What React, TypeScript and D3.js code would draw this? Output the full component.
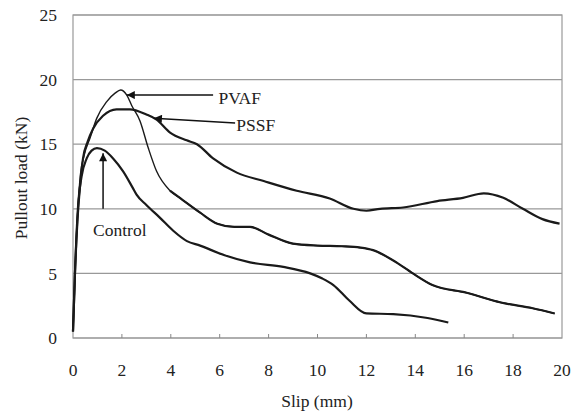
import React from "react";
import * as d3 from "d3";

// slip (mm), load (kN)
const pvaf: [number, number][] = [
  [0, 0.5], [0.05, 3], [0.12, 7], [0.2, 10], [0.3, 12.6], [0.45, 14.1], [0.7, 15.5],
  [0.97, 17.0], [1.38, 18.3], [1.72, 18.95], [1.95, 19.2], [2.2, 18.8], [2.4, 18.0],
  [2.74, 16.8], [3.08, 14.7], [3.42, 12.9], [3.97, 11.4], [4.4, 10.8], [5.2, 9.7],
  [5.9, 8.85], [6.6, 8.6], [7.24, 8.6], [8.0, 8.0], [9.0, 7.3], [10, 7.15], [11, 7.1],
  [11.74, 7.0], [12.27, 6.8], [13.1, 6.0], [13.9, 5.0], [14.7, 4.1], [16.1, 3.5],
  [17.5, 2.75], [18.8, 2.3], [19.7, 1.9],
];

const pssf: [number, number][] = [
  [0, 0.5], [0.08, 5], [0.18, 9], [0.3, 12], [0.41, 13.9], [0.6, 15.2], [0.82, 16.2],
  [1.23, 17.2], [1.78, 17.7], [2.33, 17.7], [3.0, 17.3], [3.42, 16.9], [3.97, 15.9],
  [4.65, 15.3], [5.07, 15.0], [5.73, 13.9], [6.7, 12.8], [7.8, 12.15], [9.15, 11.4],
  [10.5, 10.8], [11.47, 10.0], [12.0, 9.85], [12.56, 10.0], [13.5, 10.1], [14.9, 10.6],
  [15.95, 10.85], [16.8, 11.2], [17.6, 10.85], [18.4, 10.0], [19.2, 9.2], [19.9, 8.85],
];

const control: [number, number][] = [
  [0, 0.5], [0.08, 5], [0.2, 10], [0.35, 12.5], [0.56, 13.9], [0.76, 14.5], [0.98, 14.7],
  [1.3, 14.5], [1.64, 13.9], [2.05, 12.9], [2.45, 11.6], [2.6, 11.1], [3.0, 10.3],
  [3.56, 9.3], [4.1, 8.3], [4.66, 7.5], [5.2, 7.15], [6.2, 6.4], [7.24, 5.85], [8.6, 5.5],
  [9.7, 5.0], [10.2, 4.6], [10.65, 4.1], [11.3, 2.9], [12.0, 1.9], [13.1, 1.85],
  [14.5, 1.55], [15.35, 1.2],
];

const xTicks = [0, 2, 4, 6, 8, 10, 12, 14, 16, 18, 20];
const yTicks = [0, 5, 10, 15, 20, 25];

// annotations in data units: arrow tip, arrow tail, label anchor
const labels = [
  { text: "PVAF", tip: [2.2, 18.8], tail: [5.73, 18.8], at: [5.95, 18.6] },
  { text: "PSSF", tip: [3.31, 17.0], tail: [6.63, 16.65], at: [6.68, 16.5] },
  { text: "Control", tip: [1.23, 14.3], tail: [1.23, 10.0], at: [0.82, 8.4] },
];

const W = 583, H = 412;
const txtStyle = { fontFamily: `"Liberation Serif"`, fontSize: "17.5px" };
const ink = "#222";

export default function App() {
  const x = d3.scaleLinear().domain([0, 20]).range([73, 562]);
  const y = d3.scaleLinear().domain([0, 25]).range([338, 15]);

  const line = d3.line<[number, number]>()
    .x(d => x(d[0])).y(d => y(d[1]))
    .curve(d3.curveMonotoneX);

  return (
    <svg width={W} height={H} style={{ position: "absolute", left: 0, top: 0, background: "#fff" }}>
      <defs>
        <marker id="arr" viewBox="0 0 10 10" refX={10} refY={5}
          markerWidth={9} markerHeight={8} markerUnits="userSpaceOnUse" orient="auto">
          <path d="M0,0L10,5L0,10z" fill="#111" />
        </marker>
      </defs>

      {/* gridlines + frame */}
      {yTicks.map(t => (
        <line key={t} x1={x(0)} x2={x(20)} y1={y(t)} y2={y(t)} stroke="#999" strokeWidth={1.2} />
      ))}
      <rect x={x(0)} y={y(25)} width={x(20) - x(0)} height={y(0) - y(25)}
        fill="none" stroke="#999" strokeWidth={1.2} />

      {/* x ticks point inward */}
      {xTicks.slice(1, -1).map(t => (
        <line key={t} x1={x(t)} x2={x(t)} y1={y(0)} y2={y(0) - 4} stroke="#888" />
      ))}

      {xTicks.map(t => (
        <text key={t} x={x(t)} y={376} textAnchor="middle" style={txtStyle} fill={ink}>{t}</text>
      ))}
      {yTicks.map(t => (
        <text key={t} x={57} y={y(t)} dy="0.35em" textAnchor="end" style={txtStyle} fill={ink}>{t}</text>
      ))}

      <text x={317} y={407} textAnchor="middle" style={txtStyle} fill={ink}>Slip (mm)</text>
      <text transform="translate(27,178) rotate(-90)" textAnchor="middle" style={txtStyle} fill={ink}>
        Pullout load (kN)
      </text>

      <g fill="none" stroke="#1a1a1a" strokeLinejoin="round">
        <path d={line(pvaf) || ""} strokeWidth={1.4} />
        {/* PVAF tail is drawn heavier, as in the scan */}
        <path d={line(pvaf.filter(d => d[0] >= 3.9)) || ""} strokeWidth={2.2} />
        <path d={line(pssf) || ""} strokeWidth={2.2} />
        <path d={line(control) || ""} strokeWidth={2.2} />
      </g>

      {labels.map(l => (
        <g key={l.text}>
          <line x1={x(l.tail[0])} y1={y(l.tail[1])} x2={x(l.tip[0])} y2={y(l.tip[1])}
            stroke="#111" strokeWidth={1.5} markerEnd="url(#arr)" />
          <text x={x(l.at[0])} y={y(l.at[1])} dy="0.35em" style={txtStyle} fill={ink}>{l.text}</text>
        </g>
      ))}
    </svg>
  );
}
